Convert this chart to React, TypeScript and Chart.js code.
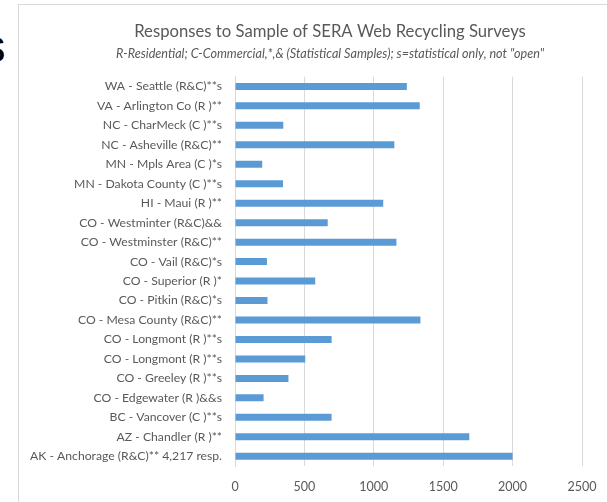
import React, { useEffect, useRef } from "react";
import { Chart, registerables } from "chart.js";

Chart.register(...registerables);

const categories: string[] = [
  "WA - Seattle (R&C)**s",
  "VA - Arlington Co (R )**",
  "NC - CharMeck (C )**s",
  "NC - Asheville (R&C)**",
  "MN - Mpls Area (C )*s",
  "MN - Dakota County (C )**s",
  "HI - Maui (R )**",
  "CO - Westminter (R&C)&&",
  "CO - Westminster (R&C)**",
  "CO - Vail (R&C)*s",
  "CO - Superior (R )*",
  "CO - Pitkin (R&C)*s",
  "CO - Mesa County (R&C)**",
  "CO - Longmont (R )**s",
  "CO - Longmont (R )**s",
  "CO - Greeley (R )**s",
  "CO - Edgewater (R )&&s",
  "BC - Vancover (C )**s",
  "AZ - Chandler (R )**",
  "AK - Anchorage (R&C)** 4,217 resp.",
];

const responses: number[] = [
  1238, 1331, 348, 1148, 196, 346, 1068, 668, 1163, 230, 578, 234, 1336, 696,
  506, 385, 206, 696, 1688, 2000,
];

const xTicks: number[] = [0, 500, 1000, 1500, 2000, 2500];

const titleText = "Responses to Sample of SERA Web Recycling Surveys";
const subtitleText =
  'R-Residential; C-Commercial,*,& (Statistical Samples); s=statistical only, not "open"';

export default function App() {
  const canvasRef = useRef<HTMLCanvasElement | null>(null);

  useEffect(() => {
    const canvas = canvasRef.current;
    if (!canvas) return;
    const chart = new Chart(canvas, {
      type: "bar",
      data: {
        labels: categories,
        datasets: [
          {
            label: "Responses",
            data: responses,
            backgroundColor: "#5B9BD5",
            borderWidth: 0,
            barPercentage: 0.36,
            categoryPercentage: 1,
          },
        ],
      },
      options: {
        indexAxis: "y",
        responsive: false,
        maintainAspectRatio: false,
        animation: false,
        layout: { padding: { left: 0, right: 0, top: 0, bottom: 8 } },
        plugins: {
          legend: { display: false },
          tooltip: { enabled: false },
          title: {
            display: true,
            text: titleText,
            color: "#595959",
            font: { family: "Lato", size: 16.7, weight: "normal" },
            padding: { top: 17, bottom: 4 },
          },
          subtitle: {
            display: true,
            text: subtitleText,
            color: "#595959",
            font: { family: "Lato", size: 12.6, style: "italic" },
            padding: { top: 0, bottom: 15.5 },
          },
        },
        scales: {
          x: {
            type: "linear",
            min: 0,
            max: 2500,
            afterBuildTicks: (axis: any) => {
              axis.ticks = xTicks.map((v) => ({ value: v }));
            },
            afterFit: (scale: any) => {
              scale.paddingRight = 59;
            },
            grid: { color: "#d9d9d9", lineWidth: 1, drawTicks: false },
            border: { display: false },
            ticks: {
              color: "#595959",
              font: { family: "Lato", size: 12.5 },
              padding: 13.5,
              callback: (v: any) => String(v),
            },
          },
          y: {
            grid: { display: false, drawTicks: false },
            border: { display: true, color: "#d9d9d9", width: 1 },
            afterFit: (scale: any) => {
              scale.width = 216;
            },
            ticks: {
              color: "#595959",
              font: { family: "Lato", size: 12.2 },
              padding: 13,
              autoSkip: false,
            },
          },
        },
      },
    });
    return () => chart.destroy();
  }, []);

  return (
    <div
      style={{
        position: "fixed",
        left: 0,
        top: 0,
        width: 607,
        height: 502,
        overflow: "hidden",
        background: "#ffffff",
      }}
    >
      <span
        style={{
          position: "absolute",
          left: -17.5,
          top: 16,
          fontFamily: "Liberation Sans",
          fontSize: 46,
          color: "#000000",
          lineHeight: "60px",
        }}
      >
        s
      </span>
      <div
        style={{
          position: "absolute",
          left: 18,
          top: 4,
          width: 640,
          height: 520,
          border: "1px solid #d9d9d9",
          boxSizing: "border-box",
        }}
      />
      <canvas
        ref={canvasRef}
        width={622}
        height={511}
        style={{ position: "absolute", left: 19, top: 5, width: 622, height: 511 }}
      />
    </div>
  );
}
